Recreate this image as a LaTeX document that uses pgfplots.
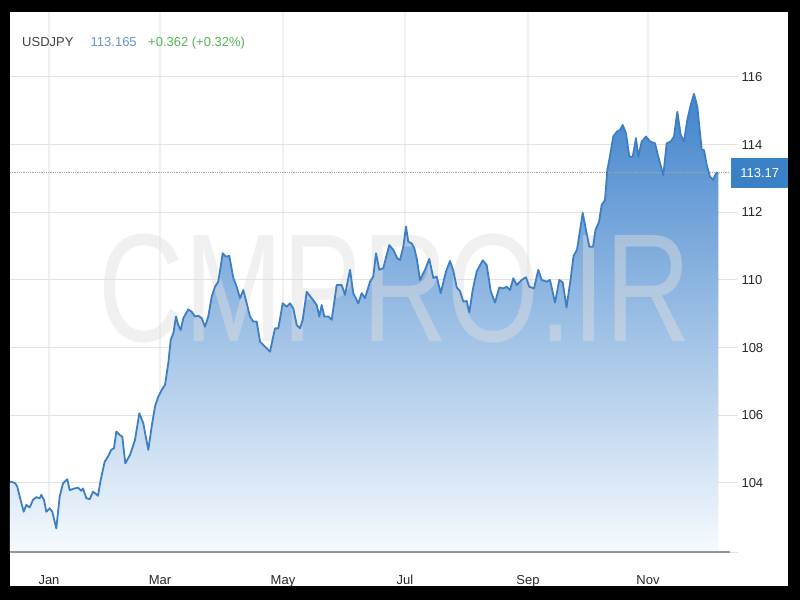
\documentclass[border=0pt]{standalone}
\usepackage{fontspec}
\setmainfont{Liberation Sans}
\usepackage{pgfplots}
\usepackage{pgfplotstable}
\pgfplotsset{compat=1.18}
\definecolor{linec}{RGB}{61,126,196}
\definecolor{topc}{RGB}{66,132,204}
\definecolor{botc}{RGB}{246,250,254}
\definecolor{gridc}{RGB}{226,226,226}
\definecolor{vgridc}{RGB}{240,240,240}
\definecolor{axisc}{RGB}{150,150,150}
\definecolor{titlec}{RGB}{68,68,68}
\definecolor{pricec}{RGB}{100,150,210}
\definecolor{chgc}{RGB}{84,180,84}
\definecolor{boxc}{RGB}{58,128,198}
\definecolor{labc}{RGB}{40,40,40}
\pgfplotstableread{
x y
10 104.03
11.3 104.04
15.3 103.99
17.3 103.89
19.7 103.60
23.7 103.15
26.3 103.35
29.7 103.28
33 103.50
36.3 103.58
39.7 103.55
41.3 103.65
44 103.50
46.3 103.15
49.7 103.25
52.3 103.15
56.3 102.66
59.7 103.60
63 103.99
67.3 104.11
69.7 103.79
74.7 103.84
78 103.86
81.3 103.77
83 103.84
86.3 103.55
89.7 103.52
93 103.74
96.3 103.67
98 103.62
100.7 104.09
104.7 104.63
108 104.78
111.3 104.98
114 105.03
116.3 105.52
119.7 105.42
122.3 105.37
125.3 104.58
130 104.83
135 105.27
139.3 106.06
143.3 105.76
148.3 104.98
151.7 105.67
155 106.26
158.3 106.55
161.7 106.75
165 106.90
168.3 107.54
170.7 108.23
173.3 108.42
176 108.92
178.3 108.67
180.7 108.52
183.3 108.87
188.3 109.13
191.7 109.06
195 108.92
198.3 108.94
201.7 108.87
205 108.62
208.3 108.92
211.7 109.51
215 109.80
218.3 109.95
222.7 110.79
226 110.69
229.3 110.71
233.3 110.06
236.7 109.80
240 109.46
243.3 109.70
246.7 109.31
250 108.92
253.3 108.77
256.7 108.77
260 108.18
265 108.03
270 107.88
275 108.57
278.3 108.57
282.7 109.31
286.7 109.21
290 109.31
293.3 109.16
296.7 108.67
300 108.57
302.7 108.82
306.7 109.65
311.7 109.46
316.7 109.26
319.3 108.92
321.7 109.26
324.3 108.92
328.3 108.92
331.7 108.82
336.7 109.85
341.7 109.85
345 109.56
350 110.30
353.3 109.61
358.3 109.31
361.7 109.61
365 109.46
370 109.95
373.3 110.10
376 110.79
379.3 110.30
383.3 110.35
386.7 110.74
389.3 111.03
393.3 110.89
397.3 110.64
400 110.59
403.3 110.98
406 111.58
408.3 111.13
411.7 111.08
414.3 110.94
416.7 110.64
420 110.00
425 110.30
429.3 110.62
433.3 110.06
436.7 110.10
440.7 109.61
446 110.25
450 110.56
453.3 110.28
456.7 109.78
460 109.67
463.3 109.36
466.7 109.38
469.3 109.04
472.7 109.70
476.7 110.25
482.7 110.58
486.7 110.44
490.7 109.67
495 109.33
499.3 109.78
503.3 109.75
506.7 109.80
510 109.70
513.3 110.05
516.7 109.85
521.7 110.00
526 110.08
529.3 109.80
534 109.75
538.3 110.30
541.7 110.00
546.7 109.95
550 110.00
555 109.33
559.3 110.00
562.7 109.93
566.5 109.19
570.5 110.00
573.5 110.71
577 110.89
582.7 111.98
586.3 111.43
589.3 110.98
593 110.98
595.5 111.48
599 111.71
601.7 112.22
605 112.36
607.3 113.25
609.3 113.55
613.3 114.24
616.7 114.38
620 114.43
622.7 114.58
626 114.34
629.3 113.64
632.7 113.64
636 114.19
638.3 113.64
641.7 114.09
646 114.24
650 114.09
655 114.04
658.3 113.64
663.3 113.10
666.7 114.04
670.7 114.09
674 114.24
677.3 114.97
680.7 114.29
684 114.09
687.3 114.73
690.7 115.17
694 115.50
697.3 115.12
700 114.34
701.7 113.84
704 113.84
706.7 113.40
710 113.05
713.3 112.96
716 113.15
718.3 113.17
}\usdjpy
\begin{document}
\begin{tikzpicture}
\path[use as bounding box] (0,0) rectangle (800pt,600pt);
\fill[black] (0,0) rectangle (800pt,600pt);
\fill[white] (10pt,14pt) rectangle (788pt,588pt);
\begin{axis}[
  at={(10pt,48pt)}, anchor=south west,
  scale only axis, width=720pt, height=540pt,
  xmin=10, xmax=730, ymin=101.96, ymax=117.92,
  axis x line*=bottom, axis y line*=right,
  x axis line style={draw=none},
  y axis line style={draw=none},
  xtick={49,160,283,405,528,648},
  xticklabels={Jan,Mar,May,Jul,Sep,Nov},
  ytick={104,106,108,110,112,114,116},
  extra y ticks={101.96}, extra y tick labels={},
  xtick style={draw=none},
  ytick style={draw=gridc, line width=1pt},
  tick align=outside, major tick length=8pt,
  xmajorgrids, ymajorgrids,
  major x grid style={draw=vgridc, line width=1.2pt},
  major y grid style={draw=gridc, line width=1pt},
  ticklabel style={font=\fontsize{13}{15}\selectfont, text=labc},
  xticklabel style={anchor=center, yshift=-20pt, text height=9.3pt, text depth=0pt},
  yticklabel style={anchor=west, text height=9.3pt, text depth=0pt},
  /pgf/number format/assume math mode=true,
  clip mode=individual,
]
\addplot[draw=none, shading=axis, top color=topc, bottom color=botc] table {\usdjpy} \closedcycle;
\node[text=gray!25, text opacity=0.45, font=\fontsize{154}{154}\selectfont, xscale=0.77, inner sep=0] at (axis cs:395,109.76) {CMPRO.IR};
\addplot[draw=gray!70, densely dotted, line width=0.8pt] coordinates {(10,113.17) (730,113.17)};
\addplot[draw=linec, line width=1.8pt, line join=round] table {\usdjpy};
\draw[axisc, line width=2pt] (rel axis cs:0,0) -- (rel axis cs:1,0);
\node[anchor=west, fill=boxc, text=white, minimum width=57pt, minimum height=30pt, inner sep=0, font=\fontsize{13}{15}\selectfont, xshift=1pt] at (axis cs:730,113.17) {113.17};
\end{axis}
\node[anchor=base west, inner sep=0, text=titlec, font=\fontsize{13}{15}\selectfont] at (22pt,553.5pt) {USDJPY};
\node[anchor=base west, inner sep=0, text=pricec, font=\fontsize{13}{15}\selectfont] at (90.5pt,553.5pt) {113.165};
\node[anchor=base west, inner sep=0, text=chgc, font=\fontsize{13}{15}\selectfont] at (148pt,553.5pt) {+0.362 (+0.32\%)};
\end{tikzpicture}
\end{document}
